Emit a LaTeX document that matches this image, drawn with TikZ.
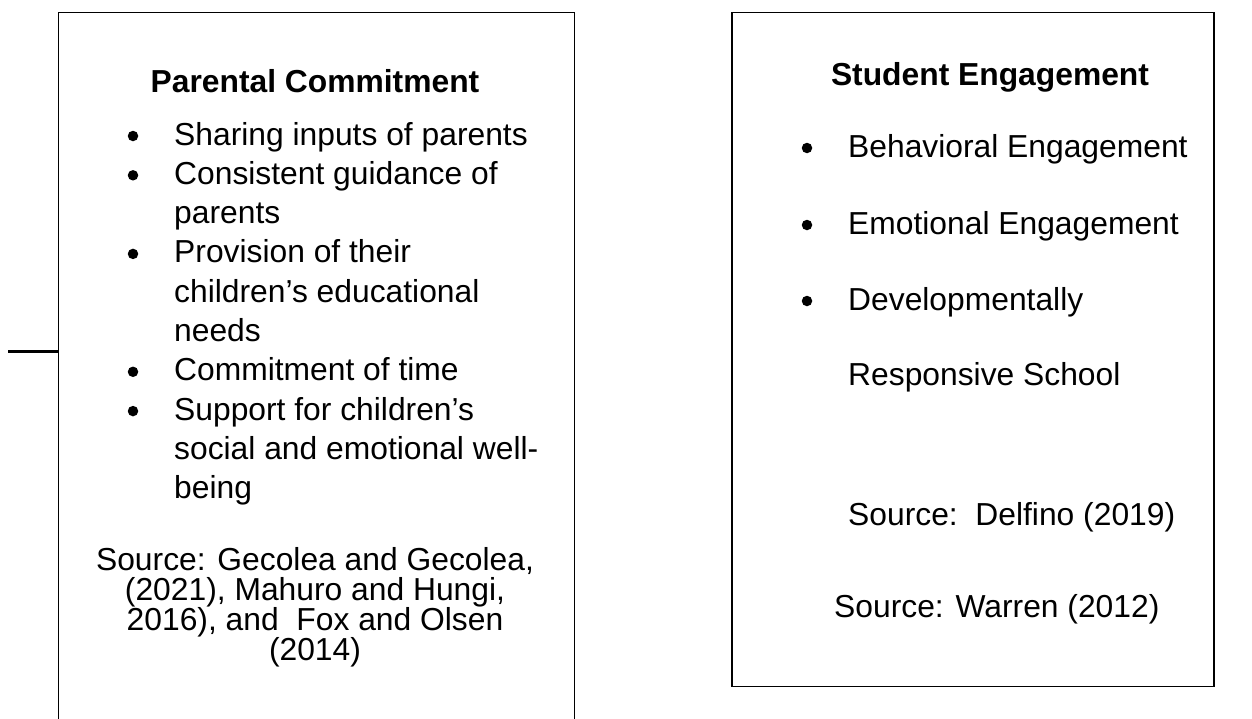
\documentclass[tikz,border=0pt]{standalone}
\usepackage{fontspec}
\setmainfont{Liberation Sans}
\begin{document}
\begin{tikzpicture}[x=1pt,y=-1pt,
  body/.style={anchor=base west, inner sep=0pt, font=\fontsize{31.8}{36}\selectfont},
  cbody/.style={anchor=base, inner sep=0pt, font=\fontsize{31.8}{36}\selectfont},
  heading/.style={anchor=base, inner sep=0pt, font=\fontsize{31.8}{36}\selectfont\bfseries},
  dot/.style={circle, fill=black, inner sep=0pt, minimum size=10.5pt},
  frame/.style={draw=black, line width=1.8pt, rectangle, inner sep=0pt, anchor=north west}]
\useasboundingbox (0,0) rectangle (1252,718);
\clip (0,0) rectangle (1252,718);

% left frame (runs past the lower edge)
\node[frame, minimum width=516pt, minimum height=760pt] (lbox) at (57.5,11.5) {};
% right frame
\node[frame, minimum width=482pt, minimum height=674pt] (rbox) at (731,11.5) {};

% short stub entering the left frame
\coordinate (stubend) at (8,351);
\draw[line width=3pt] (stubend) -- (stubend -| lbox.west);

% ---- Parental Commitment ----
\node[heading] (lt) at (315,92) {Parental Commitment};
\node[dot] (lb1) at (133,136) {};
\node[body] (l1) at (174,145.0) {Sharing inputs of parents};
\node[dot] (lb2) at (133,175.3) {};
\node[body] (l2) at (174,184.3) {Consistent guidance of};
\node[body] (l3) at (174,223.6) {parents};
\node[dot] (lb3) at (133,253.9) {};
\node[body] (l4) at (174,262.9) {Provision of their};
\node[body] (l5) at (174,302.2) {children’s educational};
\node[body] (l6) at (174,341.5) {needs};
\node[dot] (lb4) at (133,371.8) {};
\node[body] (l7) at (174,380.8) {Commitment of time};
\node[dot] (lb5) at (133,411.1) {};
\node[body] (l8) at (174,420.1) {Support for children’s};
\node[body] (l9) at (174,459.4) {social and emotional well-};
\node[body] (l10) at (174,498.7) {being};
\node[cbody] (ls1) at (315,570) {Source: Gecolea and Gecolea,};
\node[cbody] (ls2) at (315,600) {(2021), Mahuro and Hungi,};
\node[cbody] (ls3) at (315,630) {2016), and\ \ Fox and Olsen};
\node[cbody] (ls4) at (315,660) {(2014)};

% ---- Student Engagement ----
\node[heading] (rt) at (990,85) {Student Engagement};
\node[dot] (rb1) at (807,148) {};
\node[body] (r1) at (848,157) {Behavioral Engagement};
\node[dot] (rb2) at (807,225) {};
\node[body] (r2) at (848,234) {Emotional Engagement};
\node[dot] (rb3) at (807,301) {};
\node[body] (r3) at (848,310) {Developmentally};
\node[body] (r4) at (848,385) {Responsive School};
\node[body] (rs1) at (848,525) {Source:\ \ Delfino (2019)};
\node[body] (rs2) at (834,617) {Source: Warren (2012)};
\end{tikzpicture}
\end{document}
